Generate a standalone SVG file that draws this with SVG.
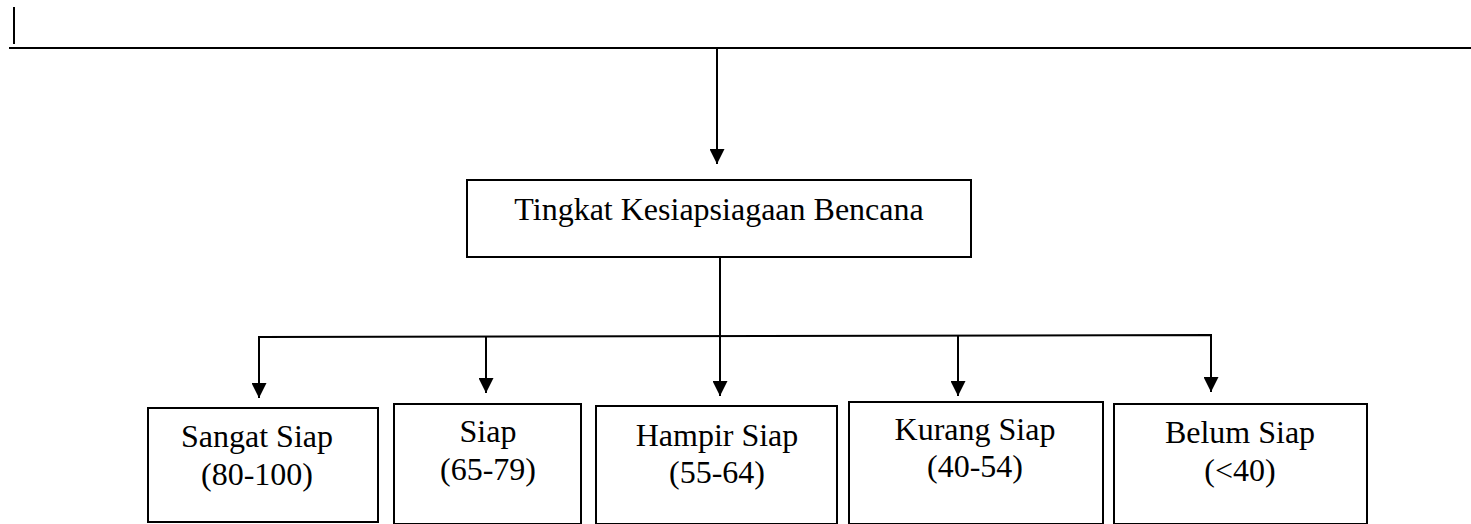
<svg xmlns="http://www.w3.org/2000/svg" width="1471" height="524" viewBox="0 0 1471 524">
<style>
.box{fill:#fff;stroke:#000;stroke-width:2}
.ln{stroke:#000;stroke-width:2;fill:none}
text{font-family:"Liberation Serif","Times New Roman",serif;font-size:32px;fill:#000;text-anchor:middle}
</style>
<defs>
<marker id="ah" viewBox="0 0 10 10" refX="10" refY="5" markerWidth="15" markerHeight="15" markerUnits="userSpaceOnUse" orient="auto">
<path d="M0,0 L10,5 L0,10 Z" fill="#000"/>
</marker>
</defs>
<rect width="1471" height="524" fill="#fff"/>
<g id="header">
<line class="ln" x1="14" y1="7" x2="14" y2="44"/>
<line class="ln" x1="9" y1="48" x2="1471" y2="48"/>
</g>
<g id="connectors">
<line class="ln" x1="717" y1="48" x2="717" y2="164" marker-end="url(#ah)"/>
<line class="ln" x1="720" y1="257" x2="720" y2="396" marker-end="url(#ah)"/>
<polyline class="ln" points="259,398 259,337 1211,335 1211,392" marker-end="url(#ah)"/>
<line class="ln" x1="486" y1="337" x2="486" y2="393" marker-end="url(#ah)"/>
<line class="ln" x1="958" y1="336" x2="958" y2="396" marker-end="url(#ah)"/>
<line class="ln" x1="259" y1="337" x2="259" y2="398" marker-end="url(#ah)"/>
</g>
<g id="top">
<rect class="box" x="467" y="180" width="504" height="77"/>
<text x="719" y="220">Tingkat Kesiapsiagaan Bencana</text>
</g>
<g id="sangat">
<rect class="box" x="148" y="408" width="230" height="114"/>
<text x="257" y="447">Sangat Siap</text>
<text x="257" y="485">(80-100)</text>
</g>
<g id="siap">
<rect class="box" x="394" y="404" width="187" height="120"/>
<text x="488" y="442">Siap</text>
<text x="488" y="480">(65-79)</text>
</g>
<g id="hampir">
<rect class="box" x="596" y="406" width="241" height="118"/>
<text x="717" y="446">Hampir Siap</text>
<text x="717" y="483">(55-64)</text>
</g>
<g id="kurang">
<rect class="box" x="849" y="402" width="254" height="122"/>
<text x="975" y="440">Kurang Siap</text>
<text x="975" y="477">(40-54)</text>
</g>
<g id="belum">
<rect class="box" x="1114" y="404" width="253" height="120"/>
<text x="1240" y="443">Belum Siap</text>
<text x="1240" y="481">(&lt;40)</text>
</g>
</svg>
